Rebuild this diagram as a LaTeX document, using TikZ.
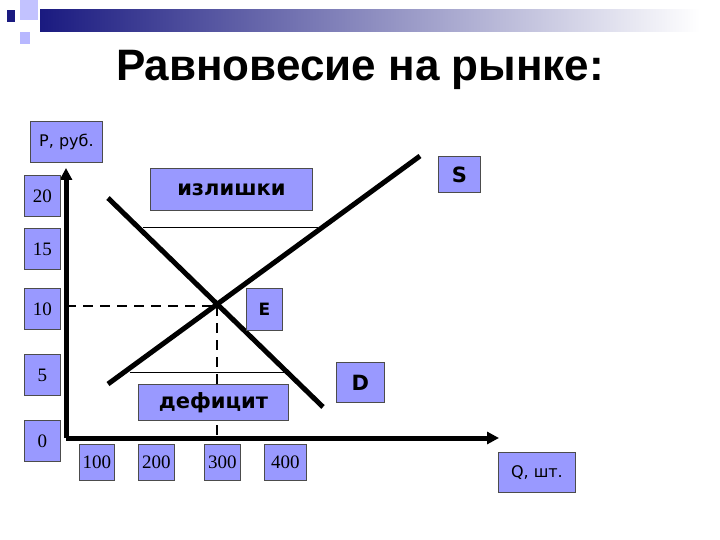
\documentclass[tikz,border=0pt]{standalone}
\usepackage{fontspec}
\setmainfont{Liberation Serif}
\newfontfamily\dvs{DejaVu Sans}
\newfontfamily\lsans{Liberation Sans}
\usetikzlibrary{arrows.meta}
\definecolor{boxfill}{HTML}{9999FF}
\definecolor{navy}{HTML}{1A1A80}
\tikzset{
  lab/.style={draw=black!70, fill=boxfill, line width=0.8pt, inner sep=0pt, anchor=north west},
  num/.style={font=\fontsize{19}{19}\selectfont},
  bold/.style={font=\dvs\bfseries\fontsize{21}{21}\selectfont},
  curve/.style={line width=5pt},
  axis/.style={line width=5pt, -{Triangle[length=12pt,width=12pt]}},
  dashline/.style={line width=2.2pt, dash pattern=on 10pt off 7pt},
  thinline/.style={line width=1pt}
}
\begin{document}
\begin{tikzpicture}[x=1pt,y=-1pt]
\useasboundingbox (0,0) rectangle (720,540);
\fill[white] (0,0) rectangle (720,540);
% decoration
\shade[left color=navy, right color=white] (40,10) rectangle (700,32);
\fill[boxfill!60] (20,0) rectangle (38,20);
\fill[boxfill!70] (20,32) rectangle (30,44);
\fill[navy] (7,10) rectangle (15,22);
% title
\node (title) at (360,70) {\lsans\bfseries\fontsize{44}{44}\selectfont Равновесие на рынке:};
% axes
\coordinate (O) at (66,438);
\coordinate (ytop) at (66,168);
\coordinate (xend) at (499,438);
\draw[axis] (O) -- (ytop);
\draw[axis] (O) -- (xend);
% labels
\node[lab, minimum width=72pt, minimum height=41pt] (P) at (30,121) {\dvs\fontsize{16}{16}\selectfont P, руб.};
\node[lab, minimum width=36pt, minimum height=41pt, num] (y20) at (24,175) {20};
\node[lab, minimum width=36pt, minimum height=41pt, num] (y15) at (24,228) {15};
\node[lab, minimum width=36pt, minimum height=41pt, num] (y10) at (24,288) {10};
\node[lab, minimum width=36pt, minimum height=41pt, num] (y5) at (24,354) {5};
\node[lab, minimum width=36pt, minimum height=41pt, num] (y0) at (24,420) {0};
\node[lab, minimum width=35pt, minimum height=36pt, num] (x100) at (79,444) {100};
\node[lab, minimum width=36pt, minimum height=36pt, num] (x200) at (138,444) {200};
\node[lab, minimum width=36pt, minimum height=36pt, num] (x300) at (204,444) {300};
\node[lab, minimum width=42pt, minimum height=36pt, num] (x400) at (264,444) {400};
\node[lab, minimum width=77pt, minimum height=40pt] (Q) at (498,452) {\dvs\fontsize{16}{16}\selectfont Q, шт.};
% equilibrium
\coordinate (E0) at (217,306);
\coordinate (Ey) at (66,306);
\coordinate (Ex) at (217,438);
\draw[dashline] (Ey) -- (E0);
\draw[dashline] (E0) -- (Ex);
% surplus / deficit lines
\coordinate (s1) at (143,228);
\coordinate (s2) at (318,228);
\coordinate (d1) at (130,372);
\coordinate (d2) at (285,372);
\draw[thinline] (s1) -- (s2);
\draw[thinline] (d1) -- (d2);
% curves
\coordinate (Da) at (108,198);
\coordinate (Db) at (323,407);
\coordinate (Sa) at (108,384);
\coordinate (Sb) at (420,156);
\draw[curve] (Da) -- (Db);
\draw[curve] (Sa) -- (Sb);
% text boxes
\node[lab, minimum width=162pt, minimum height=42pt, bold] (izl) at (150,168) {излишки};
\node[lab, minimum width=150pt, minimum height=36pt, bold] (def) at (138,384) {дефицит};
\node[lab, minimum width=42pt, minimum height=36pt, bold] (S) at (438,156) {S};
\node[lab, minimum width=36pt, minimum height=42pt, font=\dvs\bfseries\fontsize{17}{17}\selectfont] (E) at (246,288) {E};
\node[lab, minimum width=48pt, minimum height=40pt, bold] (D) at (336,362) {D};
\end{tikzpicture}
\end{document}
